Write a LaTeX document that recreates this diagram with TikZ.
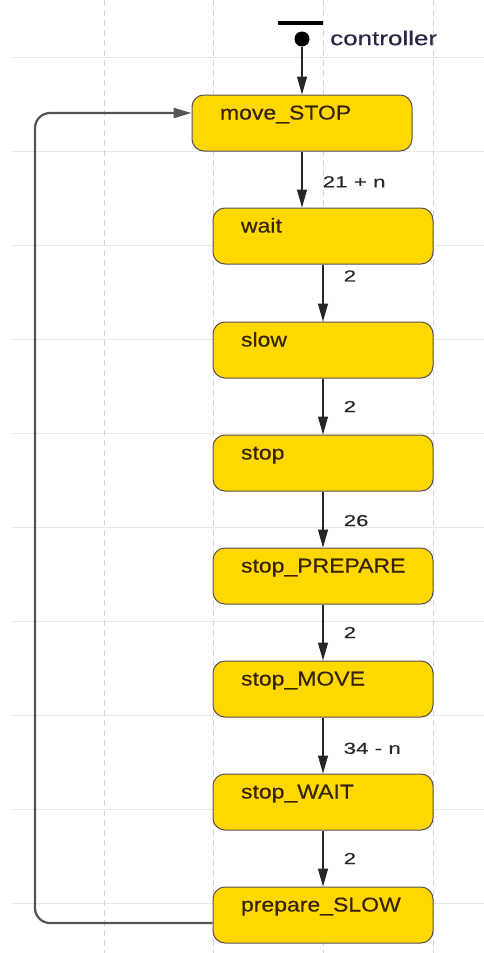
\documentclass[tikz,border=0pt]{standalone}
\usepackage{fontspec}
\setmainfont{Liberation Sans}
\newfontfamily\statefont[FakeStretch=1.15,FakeBold=0.4]{Liberation Sans}
\newfontfamily\labelfont[FakeStretch=1.4,FakeBold=0.3]{Liberation Sans}
\newfontfamily\ctrlfont[FakeStretch=1.3,FakeBold=0.3]{Liberation Sans}
\usetikzlibrary{arrows.meta}
\definecolor{stfill}{RGB}{255,216,0}
\definecolor{stdraw}{RGB}{90,78,90}
\definecolor{gridc}{RGB}{212,212,212}
\definecolor{gridh}{RGB}{232,232,232}
\definecolor{txt}{RGB}{55,35,5}
\definecolor{lbl}{RGB}{40,40,40}
\definecolor{ctrlc}{RGB}{40,40,70}
\definecolor{loopc}{RGB}{85,85,85}
\tikzset{
  state/.style={draw=stdraw, fill=stfill, line width=1pt, rounded corners=12pt,
    minimum width=220pt, minimum height=56pt, inner xsep=28pt, text width=164pt,
    align=left, text height=13pt, text depth=20pt,
    font=\statefont\fontsize{20}{22}\selectfont, text=txt},
  trans/.style={-{Triangle[length=18pt,width=10pt]}, line width=1.3pt, draw=black!85},
  tlabel/.style={anchor=west, xshift=20pt, font=\labelfont\fontsize{16}{18}\selectfont,
    text=lbl, inner sep=0pt},
  loopline/.style={draw=loopc, line width=2.2pt, rounded corners=15pt,
    -{Triangle[length=18pt,width=10pt]}},
}
\begin{document}
\begin{tikzpicture}[x=1pt,y=-1pt]
\useasboundingbox (0,0) rectangle (484,953);
\fill[white] (0,0) rectangle (484,953);
% background grid
\foreach \y in {57,151,245,339,433,527,621,715,809,903}
  \draw[gridh, line width=1pt] (12,\y) -- (484,\y);
\foreach \x in {104,213,323,433}
  \draw[gridc, line width=0.8pt, dash pattern=on 6pt off 4pt] (\x,0) -- (\x,953);
% states
\node[state] (ms)   at (302,123) {move\_STOP};
\node[state] (wait) at (323,236) {wait};
\node[state] (slow) at (323,350) {slow};
\node[state] (stop) at (323,463) {stop};
\node[state] (sp)   at (323,576) {stop\_PREPARE};
\node[state] (sm)   at (323,689) {stop\_MOVE};
\node[state] (sw)   at (323,802) {stop\_WAIT};
\node[state] (ps)   at (323,915) {prepare\_SLOW};
% initial pseudo state
\node[fill=black, inner sep=0pt, minimum width=45pt, minimum height=3.5pt] (bar) at (300,23) {};
\node[circle, fill=black, inner sep=0pt, minimum size=15pt] (init) at (302,39) {};
\node[anchor=west, font=\ctrlfont\fontsize{20}{22}\selectfont, text=ctrlc, inner sep=0pt] (ctrl) at (330,38) {controller};
% transitions
\draw[trans] (init) -- (init |- ms.north);
\draw[trans] (ms.south) -- (ms.south |- wait.north) node[tlabel, pos=0.54] {21 + n};
\draw[trans] (wait.south) -- (slow.north) node[tlabel, pos=0.2] {2};
\draw[trans] (slow.south) -- (stop.north) node[tlabel, pos=0.5] {2};
\draw[trans] (stop.south) -- (sp.north) node[tlabel, pos=0.52] {26};
\draw[trans] (sp.south) -- (sm.north) node[tlabel, pos=0.5] {2};
\draw[trans] (sm.south) -- (sw.north) node[tlabel, pos=0.55] {34 - n};
\draw[trans] (sw.south) -- (ps.north) node[tlabel, pos=0.5] {2};
% loop back
\coordinate (lb) at (35,923);
\coordinate (lt) at (35,113);
\draw[loopline] (ps.west |- lb) -- (lb) -- (lt) -- (ms.west |- lt);
\end{tikzpicture}
\end{document}
